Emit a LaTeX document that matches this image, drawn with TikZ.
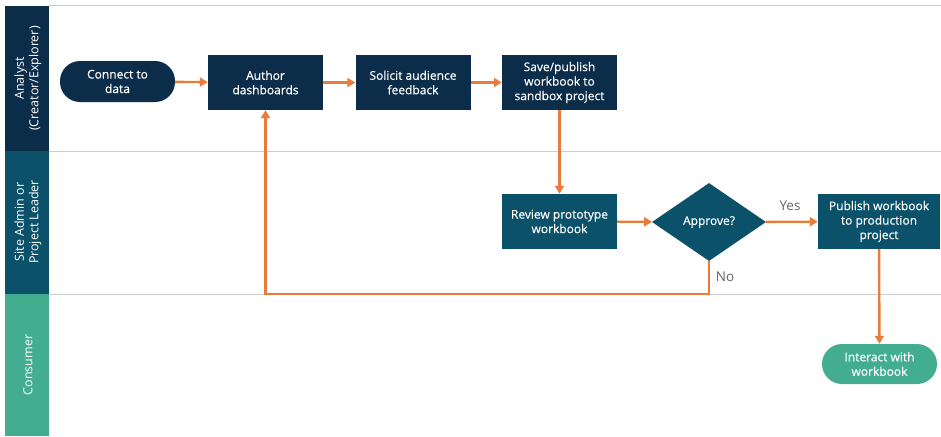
\documentclass[tikz,border=0pt]{standalone}
\usepackage{fontspec}
\setmainfont{Open Sans}
\newfontfamily\medfont{Open Sans}[FakeBold=0.35]
\usetikzlibrary{arrows.meta,shapes.geometric}
\definecolor{navy}{HTML}{0B2D4A}
\definecolor{tealdk}{HTML}{0B5169}
\definecolor{greent}{HTML}{42AD8F}
\definecolor{arr}{HTML}{E97B3B}
\definecolor{sep}{HTML}{CDCDCD}
\definecolor{lbl}{HTML}{666666}
\tikzset{
  lanetext/.style={text=white, rotate=90, align=center, font=\fontsize{12.5}{14.5}\selectfont},
  boxtext/.style={text=white, align=center, font=\medfont\fontsize{12}{14.5}\selectfont, inner sep=0pt},
  procbox/.style={boxtext, minimum width=115pt, minimum height=55pt},
  pill/.style={boxtext, rounded corners=20pt, minimum width=115pt, minimum height=41pt},
  decide/.style={boxtext, diamond, minimum width=114pt, minimum height=78pt},
  flow/.style={draw=arr, line width=2.4pt, -{Triangle[length=8pt,width=9pt]}},
  seprule/.style={draw=sep, line width=1pt},
  ynlabel/.style={text=lbl, font=\fontsize{13.5}{15}\selectfont, inner sep=0pt}
}
\begin{document}
\begin{tikzpicture}[x=1pt,y=-1pt]
\useasboundingbox[fill=white] (0,0) rectangle (941,436);
% lane bars
\fill[navy] (5,6) rectangle (49,151);
\fill[tealdk] (5,151) rectangle (49,294);
\fill[greent] (5,294) rectangle (49,436);
\node[lanetext] (laneA) at (28,78.5) {Analyst\\(Creator/Explorer)};
\node[lanetext] (laneB) at (28,222) {Site Admin or\\Project Leader};
\node[lanetext] (laneC) at (28,365) {Consumer};
% separators
\coordinate (s1a) at (49,6); \coordinate (s1b) at (941,6);
\coordinate (s2a) at (49,151); \coordinate (s2b) at (941,151);
\coordinate (s3a) at (49,294); \coordinate (s3b) at (941,294);
\draw[seprule] (s1a) -- (s1b);
\draw[seprule] (s2a) -- (s2b);
\draw[seprule] (s3a) -- (s3b);
% nodes
\node[pill, fill=navy] (connect) at (117.5,81.5) {Connect to\\data};
\node[procbox, fill=navy] (author) at (265.5,82.5) {Author\\dashboards};
\node[procbox, fill=navy] (solicit) at (413,82.5) {Solicit audience\\feedback};
\node[procbox, fill=navy] (save) at (559.5,82.5) {Save/publish\\workbook to\\sandbox project};
\node[procbox, fill=tealdk] (review) at (559.5,221.5) {Review prototype\\workbook};
\node[decide, fill=tealdk] (approve) at (709,222) {Approve?};
\node[procbox, fill=tealdk, minimum width=122pt] (publish) at (879,221.5) {Publish workbook\\to production\\project};
\node[pill, fill=greent, minimum height=40pt] (interact) at (879.5,364) {Interact with\\workbook};
% connectors
\draw[flow] (connect) -- (author);
\draw[flow] (author) -- (solicit);
\draw[flow] (solicit) -- (save);
\draw[flow] (save) -- (review);
\draw[flow] (review) -- (approve);
\draw[flow] (approve) -- (publish);
\draw[flow] (publish) -- (interact);
\coordinate (nocorner) at (709,294);
\draw[flow] (approve.south) -- (nocorner) -| (author.south);
\node[ynlabel] (yes) at (790,206) {Yes};
\node[ynlabel] (no) at (725,277) {No};
\end{tikzpicture}
\end{document}
